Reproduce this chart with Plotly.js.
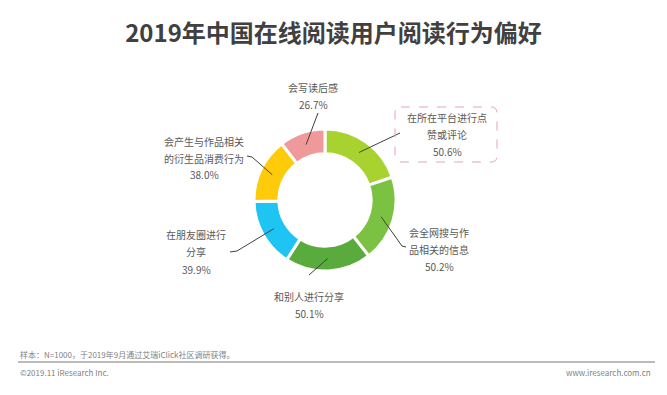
<!DOCTYPE html>
<html>
<head>
<meta charset="utf-8">
<script src="https://cdn.plot.ly/plotly-3.0.1.min.js"></script>
<style>html,body{margin:0;padding:0;background:#fff;}#chart{width:667px;height:395px;}</style>
</head>
<body>
<div id="chart"></div>
<script>
// ---- data ----
const categories = ['在所在平台进行点赞或评论','会全网搜与作品相关的信息','和别人进行分享','在朋友圈进行分享','会产生与作品相关的衍生品消费行为','会写读后感'];
const values = [50.6, 50.2, 50.1, 39.9, 38.0, 26.7];
const labelLines = [['在所在平台进行点','赞或评论'],['会全网搜与作','品相关的信息'],['和别人进行分享'],['在朋友圈进行','分享'],['会产生与作品相关','的衍生品消费行为'],['会写读后感']];
const titleText = '2019年中国在线阅读用户阅读行为偏好';
const noteText = '样本：N=1000，于2019年9月通过艾瑞iClick社区调研获得。';
const copyText = '©2019.11 iResearch Inc.';
const siteText = 'www.iresearch.com.cn';

// ---- styling / layout ----
const W = 667, H = 395;
const colors = ['#a8d22f','#7cc242','#5aab3d','#1ec4f2','#fdcb0a','#f0999a'];
const cx = 325, cy = 200, R = 71, hole = 0.65;
const labelPos = [[447,117],[439,232],[309,296],[196,235],[204,141],[313,88]];
const leaderOuter = [[[400,133]],[[406,247],[402,246]],[[309,275]],[[230,252],[237,251]],[[247,156],[252,157]],[[318,113]]];
const lineGap = 17;
const txtColor = '#595959';
const font = '"Noto Sans CJK SC", "Noto Sans", sans-serif';

const px = x => x / W;
const py = y => 1 - y / H;

const trace = {
  type: 'pie',
  labels: categories,
  values: values,
  sort: false,
  direction: 'clockwise',
  rotation: 0,
  hole: hole,
  textinfo: 'none',
  hoverinfo: 'label+value',
  marker: {colors: colors, line: {color: '#ffffff', width: 3}},
  domain: {x: [px(cx - R), px(cx + R)], y: [py(cy + R), py(cy - R)]},
  showlegend: false
};

const annotations = [];
const shapes = [];
const total = values.reduce((a, b) => a + b, 0);
let cum = 0;
values.forEach((v, i) => {
  const lines = labelLines[i].concat([v.toFixed(1) + '%']);
  const [lx, ly] = labelPos[i];
  lines.forEach((t, k) => {
    annotations.push({
      xref: 'paper', yref: 'paper', x: px(lx), y: py(ly + k * lineGap),
      xanchor: 'center', yanchor: 'middle', showarrow: false,
      text: t, font: {family: font, size: 10, color: txtColor}
    });
  });
  // leader line inner end at slice mid-angle
  const mid = (cum + v / 2) / total * 2 * Math.PI;
  cum += v;
  const rm = R * (1 + hole) / 2;
  const ix = cx + rm * Math.sin(mid), iy = cy - rm * Math.cos(mid);
  const pts = leaderOuter[i].concat([[ix, iy]]);
  const path = pts.map((p, k) => (k === 0 ? 'M' : 'L') + px(p[0]).toFixed(5) + ',' + py(p[1]).toFixed(5)).join(' ');
  shapes.push({type: 'path', xref: 'paper', yref: 'paper', path: path, line: {color: '#404040', width: 1}});
});

// dashed rounded box around first label
(function () {
  const x0 = 395, x1 = 497, y0 = 107, y1 = 162, r = 6;
  const P = (x, y) => px(x).toFixed(5) + ',' + py(y).toFixed(5);
  const path = 'M' + P(x0 + r, y0) + ' L' + P(x1 - r, y0) + ' Q' + P(x1, y0) + ' ' + P(x1, y0 + r) +
    ' L' + P(x1, y1 - r) + ' Q' + P(x1, y1) + ' ' + P(x1 - r, y1) +
    ' L' + P(x0 + r, y1) + ' Q' + P(x0, y1) + ' ' + P(x0, y1 - r) +
    ' L' + P(x0, y0 + r) + ' Q' + P(x0, y0) + ' ' + P(x0 + r, y0) + ' Z';
  shapes.push({type: 'path', xref: 'paper', yref: 'paper', path: path, line: {color: '#e7a3b3', width: 1, dash: 'dash'}});
})();

// footer rule
shapes.push({type: 'line', xref: 'paper', yref: 'paper', x0: px(18), x1: px(655), y0: py(362), y1: py(362), line: {color: '#a6a6a6', width: 1.5}});

annotations.push({xref: 'paper', yref: 'paper', x: px(18), y: py(354), xanchor: 'left', yanchor: 'middle', showarrow: false,
  text: noteText, font: {family: font, size: 8, color: '#7f7f7f'}});
annotations.push({xref: 'paper', yref: 'paper', x: px(18), y: py(372), xanchor: 'left', yanchor: 'middle', showarrow: false,
  text: copyText, font: {family: font, size: 8, color: '#7f7f7f'}});
annotations.push({xref: 'paper', yref: 'paper', x: px(653), y: py(372), xanchor: 'right', yanchor: 'middle', showarrow: false,
  text: siteText, font: {family: font, size: 8, color: '#7f7f7f'}});

const layout = {
  width: W, height: H,
  margin: {l: 0, r: 0, t: 0, b: 0},
  paper_bgcolor: '#ffffff', plot_bgcolor: '#ffffff',
  title: {text: '<b>' + titleText + '</b>', x: 0.5, xanchor: 'center', y: py(34), yanchor: 'middle', yref: 'paper',
    font: {family: font, size: 24, color: '#404040'}},
  annotations: annotations,
  shapes: shapes
};

Plotly.newPlot('chart', [trace], layout, {displayModeBar: false, staticPlot: true});
</script>
</body>
</html>
